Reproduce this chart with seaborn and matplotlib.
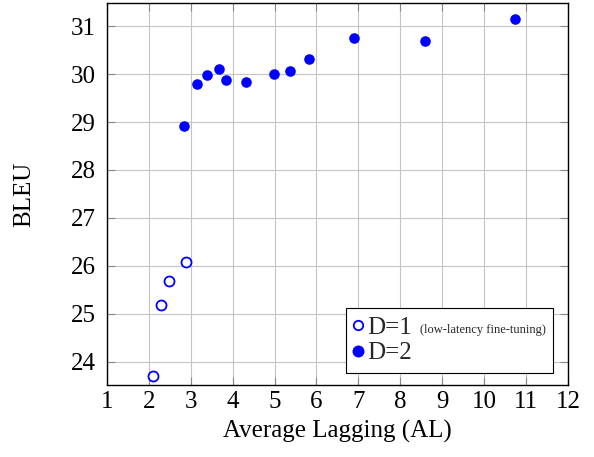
import matplotlib
matplotlib.use("Agg")
import matplotlib.pyplot as plt
import seaborn as sns
import pandas as pd
from matplotlib.lines import Line2D

# data
d1_al = [2.10, 2.28, 2.47, 2.88]
d1_bleu = [23.70, 25.19, 25.69, 26.08]
d2_al = [2.85, 3.16, 3.38, 3.67, 3.84, 4.32, 4.98, 5.37, 5.82, 6.90, 8.59, 10.75]
d2_bleu = [28.92, 29.80, 29.97, 30.10, 29.87, 29.83, 30.00, 30.06, 30.31, 30.76, 30.69, 31.15]
x_ticks = list(range(1, 13))
y_ticks = list(range(24, 32))

sns.set_theme(style="whitegrid")
plt.rcParams['font.family'] = ['Liberation Serif', 'DejaVu Serif']

fig = plt.figure(figsize=(5.94, 4.57), dpi=100)
ax = fig.add_axes([0.180, 0.1575, 0.776, 0.836])

df1 = pd.DataFrame({"AL": d1_al, "BLEU": d1_bleu})
df2 = pd.DataFrame({"AL": d2_al, "BLEU": d2_bleu})
sns.scatterplot(data=df1, x="AL", y="BLEU", ax=ax, s=52, facecolor="white",
                edgecolor="#0000ff", linewidth=1.3, zorder=3)
sns.scatterplot(data=df2, x="AL", y="BLEU", ax=ax, s=58, color="#0000ff",
                edgecolor="#0000ff", linewidth=0, zorder=3)

ax.set_xlim(1, 12)
ax.set_ylim(23.52, 31.48)
ax.set_xticks(x_ticks)
ax.set_yticks(y_ticks)
ax.grid(True, color="#c4c4c4", linewidth=0.8)
for s in ax.spines.values():
    s.set_color("black")
    s.set_linewidth(1.0)
ax.tick_params(axis="both", which="both", direction="in", length=6, color="#888888",
               width=0.8, top=True, right=True, bottom=True, left=True,
               labelsize=18, labelcolor="black")
ax.tick_params(axis="x", pad=4.5)
ax.tick_params(axis="y", pad=8)
ax.set_xlabel("Average Lagging (AL)", fontsize=18, color="black")
ax.set_ylabel("BLEU", fontsize=18, color="black")
ax.xaxis.set_label_coords(0.5, -0.092)
ax.yaxis.set_label_coords(-0.155, 0.5)

handles = [
    Line2D([], [], marker="o", linestyle="none", markerfacecolor="white",
           markeredgecolor="#0000ff", markeredgewidth=1.3, markersize=6.8),
    Line2D([], [], marker="o", linestyle="none", markerfacecolor="#0000ff",
           markeredgecolor="#0000ff", markersize=7.6),
]
leg = ax.legend(handles, ["D=1", "D=2"], loc="lower left", mode="expand",
                bbox_to_anchor=(0.5184, 0.031, 0.449, 0.2), fontsize=18,
                frameon=True, fancybox=False, edgecolor="black", framealpha=1,
                handlelength=0.3, handletextpad=0.2, borderpad=0.35,
                labelspacing=0.12, borderaxespad=0)
leg.get_frame().set_linewidth(0.8)
t0 = leg.get_texts()[0]
ax.annotate("(low-latency fine-tuning)", xy=(1, 0), xycoords=t0,
            xytext=(5.8, 4), textcoords="offset points", fontsize=9,
            ha="left", va="baseline", zorder=10)

fig.savefig("out.png", dpi=100)
